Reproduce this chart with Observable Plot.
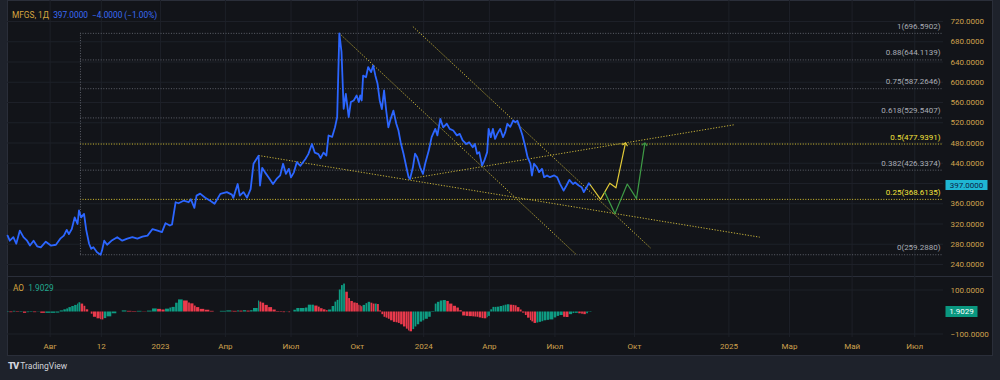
<!DOCTYPE html>
<html><head><meta charset="utf-8">
<script src="https://cdn.jsdelivr.net/npm/d3@7"></script>
<script src="https://cdn.jsdelivr.net/npm/@observablehq/plot@0.6"></script>
<style>
html,body{margin:0;padding:0;background:#1e222b;width:1000px;height:380px;overflow:hidden;font-family:Roboto,"Noto Sans",sans-serif}
#frame{position:absolute;left:7px;top:0;width:986px;height:356px;background:#121419;border:1px solid #2a2e39;box-sizing:border-box}
#sep{position:absolute;left:7px;top:276px;width:986px;height:1px;background:#2a2e39}
#a{position:absolute;left:0;top:0}
#b{position:absolute;left:0;top:277px}
#hdr{position:absolute;left:12px;top:10px;font-size:8.3px;white-space:pre}
#aol{position:absolute;left:13px;top:283px;font-size:8.3px;white-space:pre}
#logo{position:absolute;left:8px;top:360px;color:#d1d4dc;font-size:8.5px;display:flex;align-items:center;gap:2px}
#logo b{font-weight:900;font-size:9.5px;letter-spacing:-1px}
</style></head><body>
<div id="frame"></div><div id="sep"></div>
<div id="a"></div><div id="b"></div>
<div id="hdr"><span style="color:#d6a53f">MFGS, 1Д</span>  <span style="color:#3b6cf6">397.0000  −4.0000 (−1.00%)</span></div>
<div id="aol"><span style="color:#d6a53f">AO</span>  <span style="color:#22a88f">1.9029</span></div>
<div id="logo"><b>TV</b><span>TradingView</span></div>
<script>
// ---- data ----
const dates = [
"2022-06-03","2022-06-06","2022-06-11","2022-06-15","2022-06-20","2022-06-25","2022-06-30","2022-07-04","2022-07-09","2022-07-14",
"2022-07-19","2022-07-26","2022-08-02","2022-08-09","2022-08-15","2022-08-20","2022-08-24","2022-08-27","2022-08-31","2022-09-04",
"2022-09-08","2022-09-10","2022-09-13","2022-09-17","2022-09-20","2022-09-24","2022-09-27","2022-09-30","2022-10-05","2022-10-10",
"2022-10-12","2022-10-15","2022-10-19","2022-10-26","2022-11-02","2022-11-09","2022-11-16","2022-11-23","2022-11-30","2022-12-07",
"2022-12-14","2022-12-21","2022-12-28","2023-01-03","2023-01-08","2023-01-14","2023-01-17","2023-01-22","2023-01-26","2023-02-02",
"2023-02-09","2023-02-12","2023-02-17","2023-02-20","2023-02-25","2023-03-04","2023-03-11","2023-03-17","2023-03-25","2023-04-03",
"2023-04-10","2023-04-12","2023-04-18","2023-04-21","2023-04-26","2023-05-01","2023-05-06","2023-05-10","2023-05-17","2023-05-19",
"2023-05-22","2023-05-26","2023-05-31","2023-06-06","2023-06-11","2023-06-16","2023-06-20","2023-06-24","2023-06-28","2023-07-01",
"2023-07-05","2023-07-09","2023-07-14","2023-07-21","2023-07-25","2023-07-30","2023-08-03","2023-08-08","2023-08-11","2023-08-15",
"2023-08-19","2023-08-22","2023-08-27","2023-08-31","2023-09-03","2023-09-06","2023-09-09","2023-09-12","2023-09-15","2023-09-19",
"2023-09-22","2023-09-26","2023-09-30","2023-10-03","2023-10-05","2023-10-07","2023-10-09","2023-10-13","2023-10-16","2023-10-20",
"2023-10-23","2023-10-26","2023-10-29","2023-11-01","2023-11-04","2023-11-07","2023-11-10","2023-11-13","2023-11-16","2023-11-20",
"2023-11-24","2023-11-27","2023-11-30","2023-12-04","2023-12-08","2023-12-11","2023-12-13","2023-12-17","2023-12-20","2023-12-23",
"2023-12-27","2023-12-31","2024-01-03","2024-01-08","2024-01-12","2024-01-17","2024-01-20","2024-01-24","2024-01-28","2024-02-02",
"2024-02-06","2024-02-11","2024-02-16","2024-02-20","2024-02-24","2024-02-29","2024-03-04","2024-03-09","2024-03-12","2024-03-15",
"2024-03-18","2024-03-22","2024-03-25","2024-03-29","2024-03-31","2024-04-03","2024-04-06","2024-04-09","2024-04-12","2024-04-16",
"2024-04-20","2024-04-23","2024-04-26","2024-04-30","2024-05-04","2024-05-07","2024-05-10","2024-05-14","2024-05-17","2024-05-21",
"2024-05-24","2024-05-28","2024-05-30","2024-06-02","2024-06-06","2024-06-09","2024-06-13","2024-06-16","2024-06-20","2024-06-24",
"2024-06-30","2024-07-04","2024-07-08","2024-07-13","2024-07-17","2024-07-21","2024-07-26","2024-07-29","2024-08-03","2024-08-07",
"2024-08-10","2024-08-14","2024-08-17","2024-08-19"];
const closes = [
297,287,294,281,307,294,287,277.5,287,276,
274,285,277.5,279,291,297,308.5,300,310,333,
320,346.7,333,340,308.5,281,271,274,264,259.3,
268,287,279,288,294,287,291,294,291,295,
297,310,307,304,321.6,317,319,363,361,366,
363,369,352,376,380,372,366,360,379.6,383,
378,371.6,399,376,383,372,389,439,455,396,
431,422,412,399,409,416,439,419,429,412,
422,442,435,448.5,458,478,461,458,450,461,
455,494.8,492,511,531,696.6,660,547.5,577,531,
561,564,574,561,574,564,613,610,630,620,
633,613,597,564,547,584,544,511,527,544,
518,504.7,481.6,458.7,432,412.5,409,432,459,452,
432,419,439,465,491.5,508,495,527.7,511,518,
508,504.7,495,498,485,478,481.6,471.7,478,458.7,
462,435.6,445,462,508,491.5,508,488,498,508,
491.5,501,518,512,524.4,521,524,508,494.8,471.7,
452,439,415.8,439,432,422.5,429,412.5,416,412.5,
416,412.5,399.4,386,396,407,399,402,396,392.7,
383,392.7,400.6,397];
const aoValues = [
2,-3,3,-2,2,-6,-3,2,-3,1,
-6,-6,-6,-5,5,10,14,20,25,30,
36,42,36,26,10,0,-10,-24,-31,-35,
-36,-30,-22,-8,0,5,3,2,3,1,
4,14,12,9,13,18,21,40,55,50,
41,37,27,20,12,8,3,0,3,5,
4,3,5,4,6,4,6,16,50,45,
40,30,20,9,2,-2,-3,-1,-3,0,
8,16,16,18,31,31,27,22,15,10,
6,9,25,45,53,100,120,127,90,61,
48,41,39,31,28,24,30,38,44,40,
36,36,34,5,-12,-24,-28,-33,-40,-47,
-49,-52,-58,-68,-78,-86,-90,-80,-68,-58,
-46,-40,-33,-24,-2,36,44,50,52,48,
36,26,18,6,-18,-20,-21,-22,-23,-24,
-27,-30,-31,-26,-20,10,21,21,22,25,
28,31,33,31,30,28,20,9,-5,-16,
-28,-39,-45,-52,-50,-47,-44,-40,-38,-36,
-27,-20,-16,-24,-25,-12,-7,-6,-8,-10,
-12,-8,-2,1.9029];

const fibRatios = [1, 0.88, 0.75, 0.618, 0.5, 0.382, 0.25, 0];
const fibPrices = [696.5902, 644.1139, 587.2646, 529.5407, 477.9391, 426.3374, 368.6135, 259.2880];
const fibHighlight = [0.5, 0.25];
const fibStart = "2022-09-12";

const trendX1 = ["2023-09-06", "2023-12-17", "2023-05-17", "2023-12-12"];
const trendY1 = [696.59, 710, 455.3, 409.3];
const trendX2 = ["2024-07-31", "2024-10-17", "2025-01-31", "2025-01-06"];
const trendY2 = [259, 272, 294, 516];

const yellowDates = ["2024-08-19", "2024-08-29", "2024-09-07", "2024-09-13", "2024-09-22"];
const yellowValues = [397, 368.6, 400.6, 391.5, 477.9];
const greenDates = ["2024-09-02", "2024-09-12", "2024-09-24", "2024-10-03", "2024-10-11"];
const greenValues = [383, 340.5, 399, 370, 477.9];

const tickDates = ["2022-08-01","2022-10-11","2023-01-01","2023-04-01","2023-07-01","2023-10-01","2024-01-01","2024-04-01","2024-07-01","2024-10-01","2025-01-01","2025-03-01","2025-05-01","2025-07-01"];
const tickLabels = ["Авг","12","2023","Апр","Июл","Окт","2024","Апр","Июл","Окт","2025","Мар","Май","Июл"];
const gridPrices = [240,280,320,360,400,440,480,520,560,600,640,680,720];
const axisPrices = [240,280,320,360,440,480,520,560,600,640,680,720];
const aoTicks = [100, -100];
const lastClose = 397.0;
const lastAO = 1.9029;

// ---- build ----
const D = s => new Date(s + "T00:00:00Z");
const series = dates.map((d, i) => ({date: D(d), close: closes[i], ao: aoValues[i]}));
const aoRows = series.map((r, i) => ({
  ...r,
  next: i < series.length - 1 ? series[i + 1].date : new Date(+r.date + 2 * 864e5),
  up: i === 0 ? true : aoValues[i] >= aoValues[i - 1]
}));
const fibRows = fibRatios.map((r, i) => ({r, p: fibPrices[i], hi: fibHighlight.includes(r)}));
const trendRows = trendX1.map((x, i) => ({x1: D(x), y1: trendY1[i], x2: D(trendX2[i]), y2: trendY2[i]}));
const yellowRows = yellowDates.map((d, i) => ({date: D(d), v: yellowValues[i]}));
const greenRows = greenDates.map((d, i) => ({date: D(d), v: greenValues[i]}));
const ticks = tickDates.map(D);
const tickMap = new Map(ticks.map((t, i) => [+t, tickLabels[i]]));

const xDomain = [D("2022-06-03"), D("2024-08-19"), D("2025-07-29")];
const xRange = [7.1, 589.8, 943];
const GRID = "#1d2028", GOLD = "#cfa24e", FIBGREY = "#5f626b", FIBY = "#d8c431", TREND = "#c9b43a";
const tagShape = (w, h) => ({draw(ctx) { ctx.moveTo(-w/2, -h/2); ctx.lineTo(w/2, -h/2); ctx.lineTo(w/2, h/2); ctx.lineTo(-w/2, h/2); ctx.closePath(); }});
const fmt = v => v.toFixed(4).replace("-", "−");
const fibStartDate = D(fibStart), xEnd = xDomain[2];

const plotA = Plot.plot({
  width: 1000, height: 277, marginLeft: 7, marginRight: 57, marginTop: 0, marginBottom: 0,
  style: {background: "transparent", fontFamily: "Roboto, sans-serif", fontSize: "8px", overflow: "visible"},
  x: {type: "utc", domain: xDomain, range: xRange, axis: null, label: null},
  y: {domain: [240, 720], range: [264, 21], axis: null, label: null},
  marks: [
    Plot.ruleX(ticks, {stroke: GRID}),
    Plot.ruleY(gridPrices, {stroke: GRID}),
    Plot.ruleY(fibRows.filter(d => !d.hi), {y: "p", x1: () => fibStartDate, x2: () => xEnd, stroke: FIBGREY, strokeDasharray: "1,1.6"}),
    Plot.ruleY(fibRows.filter(d => d.hi), {y: "p", x1: () => fibStartDate, x2: () => xEnd, stroke: FIBY, strokeDasharray: "1,1.6"}),
    Plot.ruleX([fibStartDate], {y1: fibPrices[fibPrices.length - 1], y2: fibPrices[0], stroke: FIBGREY, strokeDasharray: "1,1.6"}),
    Plot.text(fibRows, {y: "p", text: d => `${d.r}(${d.p.toFixed(4)})`, frameAnchor: "right", textAnchor: "end", dx: -3, dy: -7,
      fill: d => d.hi ? "#f2e13c" : "#a9acb5", fontWeight: d => d.hi ? "bold" : "normal", fontSize: 8}),
    Plot.link(trendRows, {x1: "x1", y1: "y1", x2: "x2", y2: "y2", stroke: TREND, strokeWidth: 1, strokeDasharray: "1.2,1.6"}),
    Plot.line(series, {x: "date", y: "close", stroke: "#2c66ff", strokeWidth: 1.8}),
    Plot.line(yellowRows, {x: "date", y: "v", stroke: "#e2cb38", strokeWidth: 1.2, markerEnd: "arrow"}),
    Plot.line(greenRows, {x: "date", y: "v", stroke: "#3e9b46", strokeWidth: 1.2, markerEnd: "arrow"}),
    Plot.axisY(axisPrices, {anchor: "right", label: null, tickSize: 0, tickPadding: 7, tickFormat: fmt, fill: GOLD, fontSize: 8}),
    Plot.dot([lastClose], {y: d => d, frameAnchor: "right", dx: 23, r: 5, symbol: tagShape(42, 10), fill: "#1fb6d3", stroke: "none"}),
    Plot.text([lastClose], {y: d => d, frameAnchor: "right", dx: 23, textAnchor: "middle", text: fmt, fill: "#0c2447", fontSize: 8})
  ]
});
document.getElementById("a").append(plotA);

const plotB = Plot.plot({
  width: 1000, height: 80, marginLeft: 7, marginRight: 57, marginTop: 0, marginBottom: 20,
  style: {background: "transparent", fontFamily: "Roboto, sans-serif", fontSize: "8px", overflow: "visible"},
  x: {type: "utc", domain: xDomain, range: xRange, axis: null, label: null},
  y: {domain: [-100, 100], range: [56.5, 12.5], axis: null, label: null},
  marks: [
    Plot.ruleX(ticks, {stroke: GRID}),
    Plot.ruleY(aoTicks, {stroke: GRID}),
    Plot.rect(aoRows.filter(d => d.up), {x1: "date", x2: "next", y1: () => 0, y2: "ao", fill: "#0e9b82", insetRight: 0.4}),
    Plot.rect(aoRows.filter(d => !d.up), {x1: "date", x2: "next", y1: () => 0, y2: "ao", fill: "#ea3a4c", insetRight: 0.4}),
    Plot.axisY(aoTicks, {anchor: "right", label: null, tickSize: 0, tickPadding: 7, tickFormat: fmt, fill: GOLD, fontSize: 8}),
    Plot.axisX(ticks, {anchor: "bottom", label: null, tickSize: 0, tickPadding: 6, tickFormat: d => tickMap.get(+d), fill: GOLD, fontSize: 8}),
    Plot.dot([lastAO], {y: d => d, frameAnchor: "right", dx: 18, r: 5, symbol: tagShape(32, 11), fill: "#0a9780", stroke: "none"}),
    Plot.text([lastAO], {y: d => d, frameAnchor: "right", dx: 18, textAnchor: "middle", text: fmt, fill: "#ffffff", fontSize: 8})
  ]
});
document.getElementById("b").append(plotB);
</script>
</body></html>
